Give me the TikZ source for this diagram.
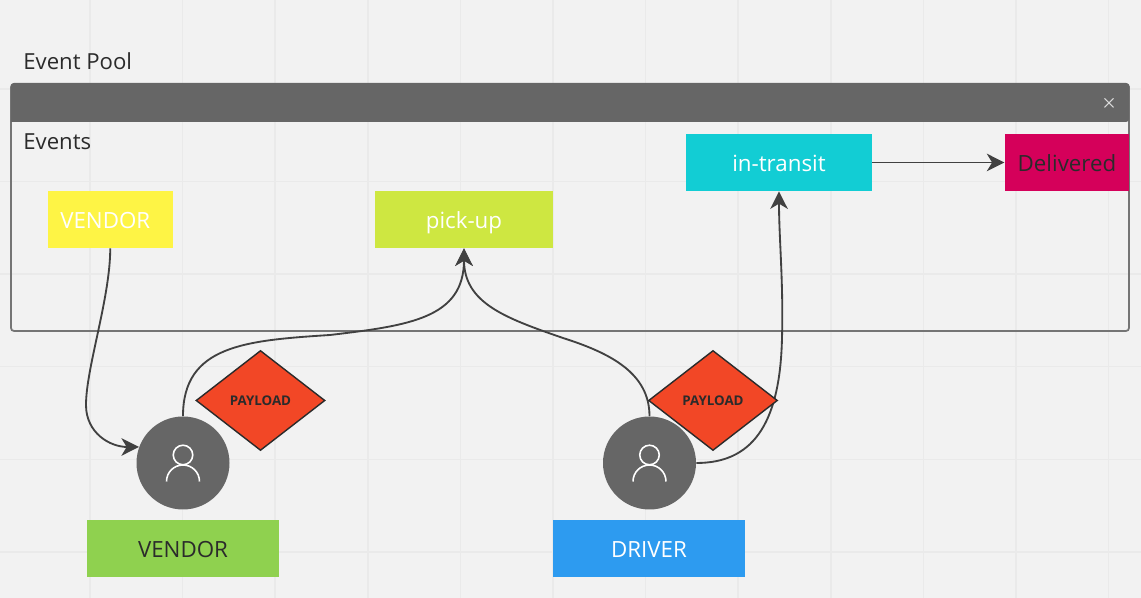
\documentclass[tikz,border=0pt]{standalone}
\usepackage{fontspec}
\setmainfont{Open Sans}
\usetikzlibrary{positioning}
\usetikzlibrary{shapes.geometric,arrows.meta}
\definecolor{canvasbg}{HTML}{F2F2F2}
\definecolor{gridline}{HTML}{EAEAEA}
\definecolor{poolgray}{HTML}{666666}
\definecolor{wireink}{HTML}{414141}
\definecolor{textink}{HTML}{2B2B2B}
\definecolor{yellowev}{HTML}{FEF445}
\definecolor{limeev}{HTML}{CEE741}
\definecolor{cyanev}{HTML}{12CDD4}
\definecolor{pinkev}{HTML}{D5005A}
\definecolor{greenev}{HTML}{8FD14F}
\definecolor{blueev}{HTML}{2D9BF0}
\definecolor{redev}{HTML}{F24726}
\tikzset{
	sticky/.style={rectangle, minimum height=1.14cm, inner sep=0pt, text height=12pt, text depth=2pt, font=\fontsize{12.7}{15}\selectfont},
	wire/.style={draw=wireink, line width=1.05pt, -{Stealth[length=10pt,width=10pt,inset=3pt]}},
	payload/.style={diamond, draw=textink, line width=0.8pt, fill=redev, aspect=1.29, minimum width=2.58cm, minimum height=2cm, inner sep=0pt, font=\fontsize{7.6}{9}\selectfont\bfseries, text=textink},
	person/.style={circle, fill=poolgray, minimum size=1.86cm, inner sep=0pt},
	heading/.style={anchor=west, inner sep=0pt, text=textink, font=\fontsize{12.6}{15}\selectfont}
}
\newcommand{\personicon}[1]{
	\draw [white, line width=0.9pt] ([yshift=0.16cm]#1.center) circle [radius=0.195cm];
	\draw [white, line width=0.9pt] ([xshift=-0.33cm,yshift=-0.37cm]#1.center) arc [radius=0.33cm, start angle=180, end angle=0];
}

\begin{document}
\begin{tikzpicture}
		\useasboundingbox (0cm,0cm) rectangle (22.82cm,11.96cm);
		\fill [canvasbg] (0cm,0cm) rectangle (22.82cm,11.96cm);

		% Board grid
		\foreach \gx in {1.8,3.652,...,22.8}
			\draw [gridline, line width=0.8pt] (\gx cm,0cm) -- (\gx cm,11.96cm);
		\foreach \gy in {0.92,2.772,...,10.2}
			\draw [gridline, line width=0.8pt] (0cm,\gy cm) -- (22.82cm,\gy cm);

		% Pool frame
		\draw [poolgray!90, line width=1pt, rounded corners=0.06cm] (0.22cm,5.34cm) rectangle (22.58cm,10.28cm);
		\fill [poolgray, rounded corners=0.06cm] (0.22cm,9.52cm) -- (0.22cm,10.30cm) -- (22.58cm,10.30cm) -- (22.58cm,9.52cm) [sharp corners] -- cycle;
		\draw [white!85!black, line width=0.6pt] (22.09cm,9.81cm) -- (22.27cm,9.99cm);
		\draw [white!85!black, line width=0.6pt] (22.09cm,9.99cm) -- (22.27cm,9.81cm);
		\node [heading] (pooltitle) at (0.46cm,10.74cm) {Event Pool};
		\node [heading] (eventstitle) at (0.46cm,9.12cm) {Events};

		% Events
		\node [sticky, fill=yellowev, text=white, minimum width=2.49cm] (vendorevent) at (2.205cm,7.57cm) {VENDOR\rule{0.2cm}{0pt}};
		\node [sticky, fill=limeev, text=white, minimum width=3.56cm] (pickup) at (9.28cm,7.57cm) {pick-up};
		\node [sticky, fill=cyanev, text=white, minimum width=3.72cm] (intransit) at (15.58cm,8.71cm) {in-transit};
		\node [sticky, fill=pinkev, text=textink, minimum width=2.49cm] (delivered) at (21.34cm,8.71cm) {Delivered};

		% Actors
		\node [person] (vendoruser) at (3.66cm,2.70cm) {};
		\node [person] (driveruser) at (12.99cm,2.70cm) {};
		\personicon{vendoruser}
		\personicon{driveruser}
		\node [sticky, fill=greenev, text=textink, minimum width=3.84cm] (vendorlabel) at (3.66cm,0.99cm) {VENDOR};
		\node [sticky, fill=blueev, text=white, minimum width=3.84cm] (driverlabel) at (12.98cm,0.99cm) {DRIVER};

		% Bends of the connectors
		\coordinate (vendorbend) at (1.72cm,3.86cm);
		\coordinate (vendorrise) at (6.6cm,5.26cm);
		\coordinate (driverrise) at (11.26cm,5.2cm);
		\coordinate (transitrise) at (15.64cm,5.2cm);

		% Connectors
		\draw [wire] (vendorevent.south) .. controls (2.205cm,6cm) and (1.72cm,4.6cm) .. (vendorbend) .. controls (1.72cm,3.3cm) and (2.2cm,3.02cm) .. (vendoruser.160);
		\draw [wire] (vendoruser.north) .. controls (3.66cm,5.05cm) and (4.9cm,5.15cm) .. (vendorrise) .. controls (8.2cm,5.45cm) and (9.28cm,5.6cm) .. (pickup.south);
		\draw [wire] (driveruser.north) .. controls (12.99cm,4.5cm) and (12.2cm,4.9cm) .. (driverrise) .. controls (10.1cm,5.6cm) and (9.28cm,5.9cm) .. (pickup.south);
		\draw [wire] (driveruser.east) .. controls (15cm,2.7cm) and (15.6cm,3.4cm) .. (transitrise) .. controls (15.67cm,6.3cm) and (15.58cm,7.2cm) .. (intransit.south);
		\draw [wire] (intransit.east) -- (delivered.west);

		% Payloads
		\node [payload] (vendorpayload) at (5.21cm,3.95cm) {PAYLOAD};
		\node [payload] (driverpayload) at (14.26cm,3.95cm) {PAYLOAD};
	\end{tikzpicture}
\end{document}
